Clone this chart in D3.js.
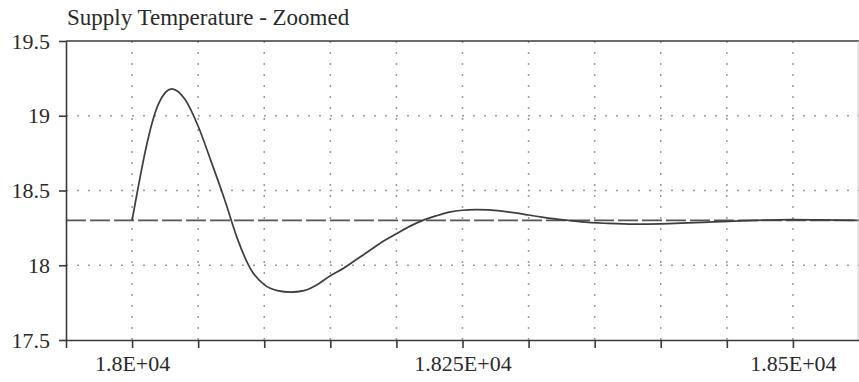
<!DOCTYPE html>
<html>
<head>
<meta charset="utf-8">
<script src="https://cdn.jsdelivr.net/npm/d3@7"></script>
<style>
  body { margin: 0; background: #fff; }
  svg { display: block; }
  .axis path, .axis line { stroke: #3a3a3a; stroke-width: 1.6; }
  .grid { stroke: #999; stroke-width: 1.5; stroke-dasharray: 2,9; }
</style>
</head>
<body>
<svg width="859" height="382"></svg>
<script>
// supply temperature response after the step at t = 18000
var timeSteps = [18000, 18020, 18030, 18040, 18050, 18060, 18070, 18080, 18090, 18100,
                 18110, 18120, 18130, 18140, 18150, 18160, 18170, 18180, 18190, 18200,
                 18210, 18220, 18230, 18240, 18250, 18260, 18270, 18280, 18290, 18300,
                 18310, 18320, 18330, 18340, 18360, 18380, 18400, 18420, 18440, 18460,
                 18480, 18500, 18520, 18550];
var supplyTemp = [18.3, 19.08, 19.18, 19.11, 18.93, 18.69, 18.44, 18.17, 17.97, 17.87,
                  17.83, 17.82, 17.83, 17.87, 17.93, 17.98, 18.04, 18.10, 18.16, 18.21,
                  18.26, 18.30, 18.33, 18.355, 18.368, 18.372, 18.37, 18.362, 18.35, 18.336,
                  18.322, 18.31, 18.30, 18.29, 18.28, 18.275, 18.277, 18.283, 18.29, 18.297,
                  18.302, 18.305, 18.303, 18.30];
var setpoint = 18.3;

var xTicks = [17950, 18000, 18050, 18100, 18150, 18200, 18250, 18300, 18350, 18400, 18450, 18500];
var xLabelValues = [18000, 18250, 18500];
var xLabelText = ["1.8E+04", "1.825E+04", "1.85E+04"];
var yTicks = [17.5, 18, 18.5, 19, 19.5];
var yGrid = [18, 18.5, 19];

var serif = "'Liberation Serif'";
var svg = d3.select("svg");

var x = d3.scaleLinear().domain([17950, 18550]).range([66, 859]);
var y = d3.scaleLinear().domain([17.5, 19.5]).range([340, 41]);

// title
svg.append("text")
  .attr("x", 67)
  .attr("y", 25)
  .attr("fill", "#2a2a2a")
  .style("font-family", serif)
  .style("font-size", "23px")
  .text("Supply Temperature - Zoomed");

// dotted grid
var g = svg.append("g");
g.selectAll(".vgrid")
  .data(xTicks.slice(1))
  .enter().append("line")
  .attr("class", "grid")
  .attr("x1", d => x(d)).attr("x2", d => x(d))
  .attr("y1", y(19.5)).attr("y2", y(17.5));

g.selectAll(".hgrid")
  .data(yGrid)
  .enter().append("line")
  .attr("class", "grid")
  .attr("x1", x(17950)).attr("x2", x(18550))
  .attr("y1", d => y(d)).attr("y2", d => y(d));

// setpoint line
svg.append("line")
  .attr("x1", x(17950)).attr("x2", x(18550))
  .attr("y1", y(setpoint)).attr("y2", y(setpoint))
  .attr("stroke", "#555")
  .attr("stroke-width", 1.6)
  .attr("stroke-dasharray", "20,4");

// response curve
var line = d3.line()
  .x((d, i) => x(timeSteps[i]))
  .y(d => y(d))
  .curve(d3.curveMonotoneX);

svg.append("path")
  .datum(supplyTemp)
  .attr("fill", "none")
  .attr("stroke", "#3d3d3d")
  .attr("stroke-width", 1.7)
  .attr("stroke-linejoin", "round")
  .attr("d", line);

// frame: top and right edges
svg.append("line")
  .attr("x1", x(17950)).attr("x2", x(18550))
  .attr("y1", y(19.5)).attr("y2", y(19.5))
  .attr("stroke", "#3a3a3a").attr("stroke-width", 1.6);
svg.append("line")
  .attr("x1", 858).attr("x2", 858)
  .attr("y1", y(19.5)).attr("y2", y(17.5))
  .attr("stroke", "#ccc").attr("stroke-width", 1);

// x-axis
svg.append("g")
  .attr("class", "axis axis--x")
  .attr("transform", `translate(0,${y(17.5)})`)
  .call(d3.axisBottom(x)
    .tickValues(xTicks)
    .tickSizeInner(8).tickSizeOuter(0).tickPadding(7)
    .tickFormat(d => {
      var i = xLabelValues.indexOf(d);
      return i >= 0 ? xLabelText[i] : "";
    }));

// y-axis
svg.append("g")
  .attr("class", "axis axis--y")
  .attr("transform", `translate(${x(17950)},0)`)
  .call(d3.axisLeft(y)
    .tickValues(yTicks)
    .tickSizeInner(7).tickSizeOuter(0).tickPadding(9)
    .tickFormat(d3.format("")));

svg.selectAll(".axis text")
  .attr("fill", "#2a2a2a")
  .style("font-family", serif)
  .style("font-size", "22px");
</script>
</body>
</html>
